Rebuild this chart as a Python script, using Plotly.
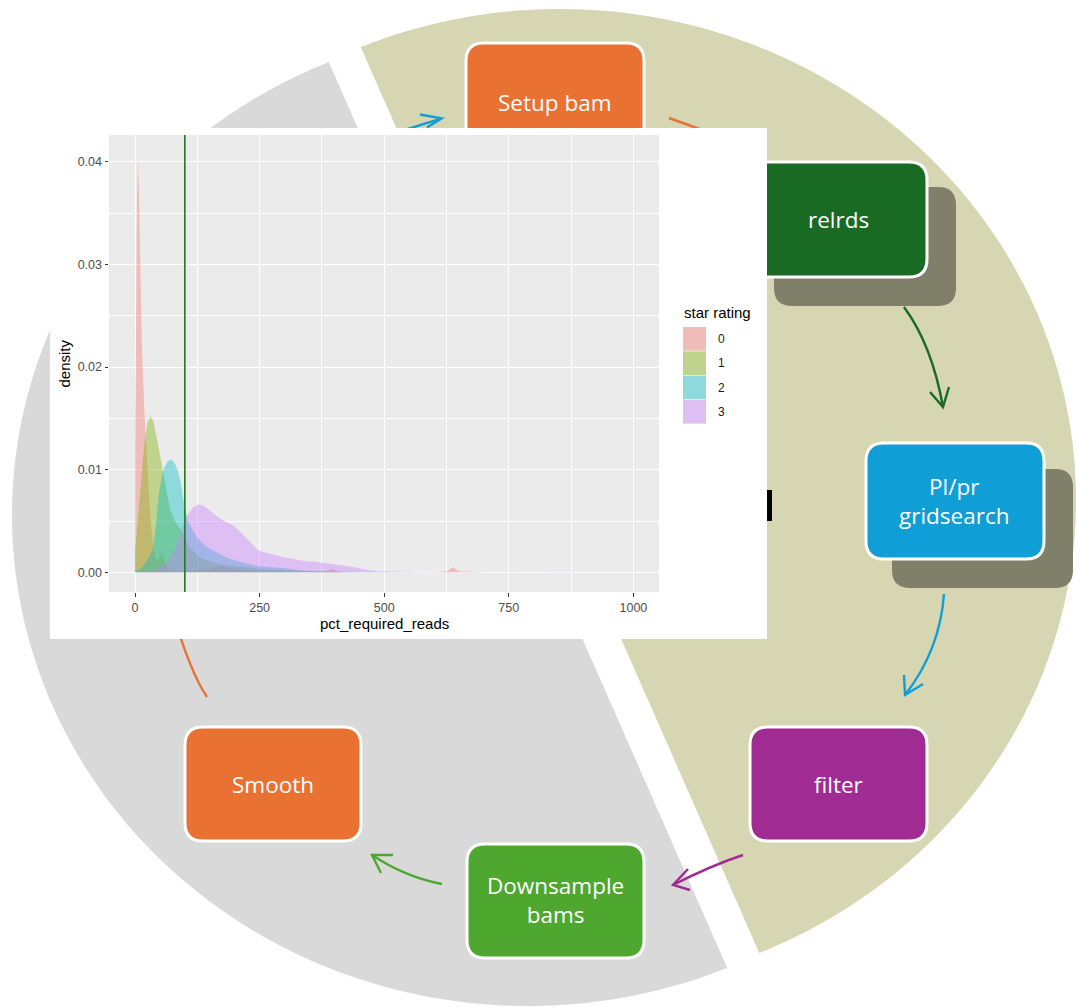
import numpy as np
import plotly.graph_objects as go

W, H = 1076, 1007

# ---------------- data ----------------
star_levels = ["0", "1", "2", "3"]
fill_colors = ["rgba(248,118,109,0.4)", "rgba(124,174,0,0.4)",
               "rgba(0,191,196,0.4)", "rgba(199,124,255,0.4)"]

x_star0 = [0, 1, 2.5, 4, 6, 8, 11, 14, 19, 25, 30, 35, 40, 45, 50, 54, 58, 64, 72, 85,
           100, 120, 135, 150, 165, 175, 185, 200, 220, 250, 300, 350, 385, 395, 405,
           420, 500, 600, 625, 638, 650, 700, 800, 900, 1000]
y_star0 = [0.012, 0.020, 0.029, 0.036, 0.0403, 0.037, 0.029, 0.0217, 0.0155, 0.010,
           0.0058, 0.0032, 0.0016, 0.0011, 0.0015, 0.0019, 0.0013, 0.0005, 0.0002, 0.0001,
           0.0001, 0.0002, 0.0004, 0.0003, 0.0005, 0.0007, 0.0004, 0.0003, 0.0002, 0.0001,
           0.00005, 0.0, 0.0001, 0.0004, 0.0001, 0.0, 0.0, 0.0, 0.0001, 0.0005, 0.0001,
           0.0, 0.0, 0.0, 0.0]

x_star1 = [0, 5, 10, 15, 20, 25, 31, 37, 43, 50, 56, 62, 70, 80, 94, 110, 125, 140, 160,
           180, 200, 230, 260, 300, 350, 400, 450, 500]
y_star1 = [0.002, 0.0045, 0.0075, 0.0105, 0.013, 0.0146, 0.0152, 0.0147, 0.0133, 0.0115,
           0.0098, 0.0082, 0.0062, 0.005, 0.004, 0.0024, 0.0017, 0.0012, 0.0009, 0.0007,
           0.0006, 0.0004, 0.0003, 0.0002, 0.0001, 0.00005, 0.0, 0.0]

x_star2 = [0, 10, 20, 30, 36, 42, 48, 56, 65, 73, 80, 86, 92, 98, 106, 116, 126, 140, 153,
           170, 186, 205, 220, 250, 280, 300, 330, 360, 400, 450, 500, 550, 600]
y_star2 = [0.0001, 0.0003, 0.0008, 0.0016, 0.0022, 0.0046, 0.0077, 0.0099, 0.0108, 0.0110,
           0.0106, 0.0099, 0.0087, 0.0068, 0.0050, 0.0041, 0.0033, 0.0026, 0.0022, 0.0018,
           0.0014, 0.0011, 0.0009, 0.0006, 0.0005, 0.0004, 0.0002, 0.0001, 0.00005,
           0.00003, 0.00002, 0.00001, 0.0]

x_star3 = [0, 30, 50, 65, 80, 90, 97, 103, 110, 116, 127, 137, 146, 156, 166, 176, 186, 196,
           206, 216, 226, 236, 246, 256, 266, 280, 297, 320, 340, 365, 390, 410, 430, 450,
           470, 490, 520, 560, 600, 650, 700, 750, 800, 850, 880, 915]
y_star3 = [0.0, 0.0001, 0.0004, 0.0010, 0.0022, 0.0035, 0.0046, 0.0054, 0.0059, 0.0063,
           0.0066, 0.0065, 0.0062, 0.0058, 0.0054, 0.0051, 0.0048, 0.0046, 0.0042, 0.0037,
           0.0032, 0.0027, 0.0022, 0.0020, 0.0019, 0.0017, 0.0015, 0.0013, 0.0011, 0.0010,
           0.0008, 0.0007, 0.0006, 0.0004, 0.0002, 0.0001, 0.00005, 0.00003, 0.00004,
           0.00002, 0.00001, 0.0, 0.00001, 0.00003, 0.00003, 0.0]

series_x = [x_star0, x_star1, x_star2, x_star3]
series_y = [y_star0, y_star1, y_star2, y_star3]

vline_x = 100
x_ticks = [0, 250, 500, 750, 1000]
x_ticklabels = ["0", "250", "500", "750", "1000"]
x_minor = [125, 375, 625, 875]
y_ticks = [0.0, 0.01, 0.02, 0.03, 0.04]
y_ticklabels = ["0.00", "0.01", "0.02", "0.03", "0.04"]
y_minor = [0.005, 0.015, 0.025, 0.035]
x_title = "pct_required_reads"
y_title = "density"
legend_title = "star rating"

step_labels = ["Setup bam", "relrds", "Pl/pr<br>gridsearch", "filter",
               "Downsample<br>bams", "Smooth"]
step_colors = ["#E97132", "#196B24", "#0F9ED5", "#A02B93", "#4EA72E", "#E97132"]

# ---------------- helpers (pixel -> paper) ----------------
def P(x, y):
    return f"{x / W:.5f},{1 - y / H:.5f}"

def half_ellipse(cx, cy, rx, ry, t0, t1, n=240):
    ts = np.linspace(t0, t1, n)
    pts = [P(cx + rx * np.cos(t), cy + ry * np.sin(t)) for t in ts]
    return "M " + " L ".join(pts) + " Z"

def rrect(x0, y0, x1, y1, r):
    return (f"M {P(x0 + r, y0)} L {P(x1 - r, y0)} Q {P(x1, y0)} {P(x1, y0 + r)} "
            f"L {P(x1, y1 - r)} Q {P(x1, y1)} {P(x1 - r, y1)} L {P(x0 + r, y1)} "
            f"Q {P(x0, y1)} {P(x0, y1 - r)} L {P(x0, y0 + r)} Q {P(x0, y0)} {P(x0 + r, y0)} Z")

def rect(x0, y0, x1, y1):
    return f"M {P(x0, y0)} L {P(x1, y0)} L {P(x1, y1)} L {P(x0, y1)} Z"

shapes = []

def add_path(path, fill=None, lc=None, lw=0, layer="below"):
    d = dict(type="path", path=path, xref="paper", yref="paper", layer=layer,
             fillcolor=fill if fill else "rgba(0,0,0,0)",
             line=dict(color=lc if lc else "rgba(0,0,0,0)", width=lw))
    shapes.append(d)

# background exploded pie (two halves)
RX, RY = 516, 491
th0 = np.arctan(RX / (0.44 * RY))
add_path(half_ellipse(528, 515, RX, RY, th0, th0 + np.pi), fill="#D9D9D9")
add_path(half_ellipse(560, 500, RX, RY, th0 - np.pi, th0), fill="#D6D6B3")

# shadow boxes
SHADOW = "#80806A"
add_path(rrect(774, 187, 956, 306, 18), fill=SHADOW)
add_path(rrect(892, 469, 1073, 588, 18), fill=SHADOW)

# step boxes
box_px = [(466, 43, 644, 158), (749, 162, 927, 277), (866, 443, 1044, 559),
          (750, 727, 927, 841), (467, 844, 644, 958), (185, 727, 361, 841)]
for (x0, y0, x1, y1), c in zip(box_px, step_colors):
    add_path(rrect(x0, y0, x1, y1, 18), fill=c, lc="white", lw=3)

# arrows
AW = 2.4
add_path(f"M {P(395, 133)} L {P(441.7, 118.3)}", lc="#0F9ED5", lw=AW)
add_path(f"M {P(420, 114.5)} L {P(441.7, 118.3)} L {P(427, 127.5)}", lc="#0F9ED5", lw=AW)
add_path(f"M {P(669, 118)} L {P(730, 140)}", lc="#E97132", lw=AW)
add_path(f"M {P(904, 307)} Q {P(932, 345)} {P(943, 407)}", lc="#196B24", lw=AW)
add_path(f"M {P(930, 392)} L {P(943, 407)} L {P(949, 387)}", lc="#196B24", lw=AW)
add_path(f"M {P(944, 594)} Q {P(940, 650)} {P(905, 695)}", lc="#0F9ED5", lw=AW)
add_path(f"M {P(904, 675)} L {P(905, 695)} L {P(923, 684)}", lc="#0F9ED5", lw=AW)
add_path(f"M {P(743, 855)} Q {P(710, 866)} {P(673, 885)}", lc="#A02B93", lw=AW)
add_path(f"M {P(688, 869)} L {P(673, 885)} L {P(690, 890)}", lc="#A02B93", lw=AW)
add_path(f"M {P(442, 884)} Q {P(405, 877)} {P(372, 855)}", lc="#4EA72E", lw=AW)
add_path(f"M {P(381, 873)} L {P(372, 855)} L {P(393, 855)}", lc="#4EA72E", lw=AW)
add_path(f"M {P(207, 697)} Q {P(190, 672)} {P(172, 610)}", lc="#E97132", lw=AW)

# partially hidden glyph
add_path(rect(767, 490, 772, 521), fill="black")

# inset: white card + ggplot panel
add_path(rect(50, 128, 767, 639), fill="white")
PX0, PX1, PY0, PY1 = 109, 659, 135, 592
add_path(rect(PX0, PY0, PX1, PY1), fill="#EBEBEB")

# manual ggplot-style legend keys
KEY_X0, KEY_X1, KEY_Y0, KEY_H = 683, 706, 327, 24.3
for i, c in enumerate(fill_colors):
    y0 = KEY_Y0 + i * KEY_H
    add_path(rect(KEY_X0, y0, KEY_X1, y0 + KEY_H - 0.6), fill="#EBEBEB")
    add_path(rect(KEY_X0, y0, KEY_X1, y0 + KEY_H - 0.6), fill=c)

# vertical reference line in data coordinates
shapes.append(dict(type="line", xref="x", yref="y domain", x0=vline_x, x1=vline_x,
                   y0=0, y1=1, layer="above", line=dict(color="#1E7B1E", width=1.6)))

# ---------------- traces ----------------
fig = go.Figure()
for lvl, xs, ys, c in zip(star_levels, series_x, series_y, fill_colors):
    fig.add_trace(go.Scatter(x=xs, y=ys, mode="lines", fill="tozeroy", fillcolor=c,
                             line=dict(width=0, color=c), name=lvl, showlegend=False,
                             hoverinfo="x+y+name"))

# ---------------- annotations ----------------
CHART_FONT = "Liberation Sans, Arial, sans-serif"
STEP_FONT = "Open Sans, sans-serif"
annotations = []

def ann(text, x, y, size, color, family, xanchor="center", textangle=0):
    annotations.append(dict(text=text, x=x / W, y=1 - y / H, xref="paper", yref="paper",
                            showarrow=False, xanchor=xanchor, yanchor="middle",
                            textangle=textangle,
                            font=dict(size=size, color=color, family=family)))

step_centers = [(555, 102), (838, 219), (954, 501), (838, 784), (555, 900), (273, 784)]
for lab, (cx, cy) in zip(step_labels, step_centers):
    ann(lab, cx, cy, 22.5, "white", STEP_FONT)

ann(x_title, (PX0 + PX1) / 2, 623, 15, "black", CHART_FONT)
ann(y_title, 64, (PY0 + PY1) / 2, 15, "black", CHART_FONT, textangle=-90)
ann(legend_title, 682, 312, 15, "black", CHART_FONT, xanchor="left")
for i, lvl in enumerate(star_levels):
    ann(lvl, 716, KEY_Y0 + i * KEY_H + KEY_H / 2, 12, "#1A1A1A", CHART_FONT, xanchor="left")

# ---------------- layout ----------------
y_lo = -0.00192
y_hi = 0.04262
fig.update_layout(
    width=W, height=H, margin=dict(l=0, r=0, t=0, b=0),
    paper_bgcolor="white", plot_bgcolor="rgba(0,0,0,0)",
    shapes=shapes, annotations=annotations, showlegend=False,
    font=dict(family=CHART_FONT),
    xaxis=dict(domain=[PX0 / W, PX1 / W], range=[-52.2, 1051.4], tickmode="array",
               tickvals=x_ticks, ticktext=x_ticklabels, showgrid=True, gridcolor="white",
               gridwidth=1.1, zeroline=False, showline=False, ticks="outside", ticklen=3.5,
               tickwidth=1, tickcolor="#333333",
               tickfont=dict(size=12.5, color="#4D4D4D", family=CHART_FONT),
               minor=dict(tickvals=x_minor, showgrid=True, gridcolor="white",
                          gridwidth=0.55, ticks=""),
               automargin=False, fixedrange=True),
    yaxis=dict(domain=[1 - PY1 / H, 1 - PY0 / H], range=[y_lo, y_hi], tickmode="array",
               tickvals=y_ticks, ticktext=y_ticklabels, showgrid=True, gridcolor="white",
               gridwidth=1.1, zeroline=False, showline=False, ticks="outside", ticklen=3.5,
               tickwidth=1, tickcolor="#333333",
               tickfont=dict(size=12.5, color="#4D4D4D", family=CHART_FONT),
               minor=dict(tickvals=y_minor, showgrid=True, gridcolor="white",
                          gridwidth=0.55, ticks=""),
               automargin=False, fixedrange=True),
)

fig.write_html("out.html", config={"displayModeBar": False},
               post_script="document.body.style.margin='0px';")
